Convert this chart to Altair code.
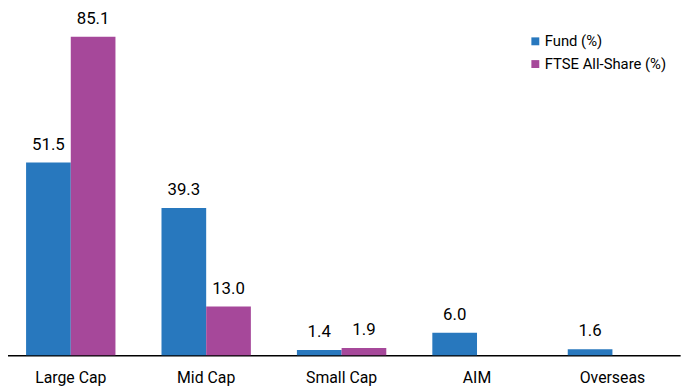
import altair as alt
import pandas as pd

categories = ["Large Cap", "Mid Cap", "Small Cap", "AIM", "Overseas"]
series = ["Fund (%)", "FTSE All-Share (%)"]
fund = [51.5, 39.3, 1.4, 6.0, 1.6]
ftse = [85.1, 13.0, 1.9, None, None]

rows = []
for c, f, t in zip(categories, fund, ftse):
    rows.append({"cat": c, "series": series[0], "value": f})
    if t is not None:
        rows.append({"cat": c, "series": series[1], "value": t})
df = pd.DataFrame(rows)

FONT = "Roboto"
colors = ["#2878BE", "#A6489A"]

x = alt.X("cat:N", sort=categories, title=None,
          scale=alt.Scale(paddingInner=0.34, paddingOuter=0.17, range=[-5, 680]),
          axis=alt.Axis(labelAngle=0, ticks=False, domainColor="black", domainWidth=1.5,
                        labelFontSize=16, labelFont=FONT, labelColor="black", labelPadding=15))
y = alt.Y("value:Q", scale=alt.Scale(domain=[0, 90.6], nice=False), axis=None)
xo = alt.XOffset("series:N", sort=series)

bars = alt.Chart(df).mark_bar().encode(
    x=x, y=y, xOffset=xo,
    color=alt.Color("series:N", sort=series, scale=alt.Scale(domain=series, range=colors),
                    legend=alt.Legend(title=None, orient="none", legendX=526, legendY=18,
                                      symbolType="square", symbolSize=64, labelFontSize=15,
                                      labelFont=FONT, labelColor="black", rowPadding=7,
                                      labelOffset=2, symbolStrokeWidth=0)),
)
labels = alt.Chart(df).mark_text(dy=-9, baseline="bottom", fontSize=17, font=FONT, color="black").encode(
    x=x, y=y, xOffset=xo, text=alt.Text("value:Q", format=".1f")
)

chart = (bars + labels).properties(
    width=680, height=343,
    padding={"top": 6, "left": 0, "right": 12, "bottom": 30},
    autosize=alt.AutoSizeParams(type="none"),
).configure_view(stroke=None).configure_scale(bandPaddingInner=0)
chart.save("out.html", embed_options={"renderer": "svg", "actions": False})
